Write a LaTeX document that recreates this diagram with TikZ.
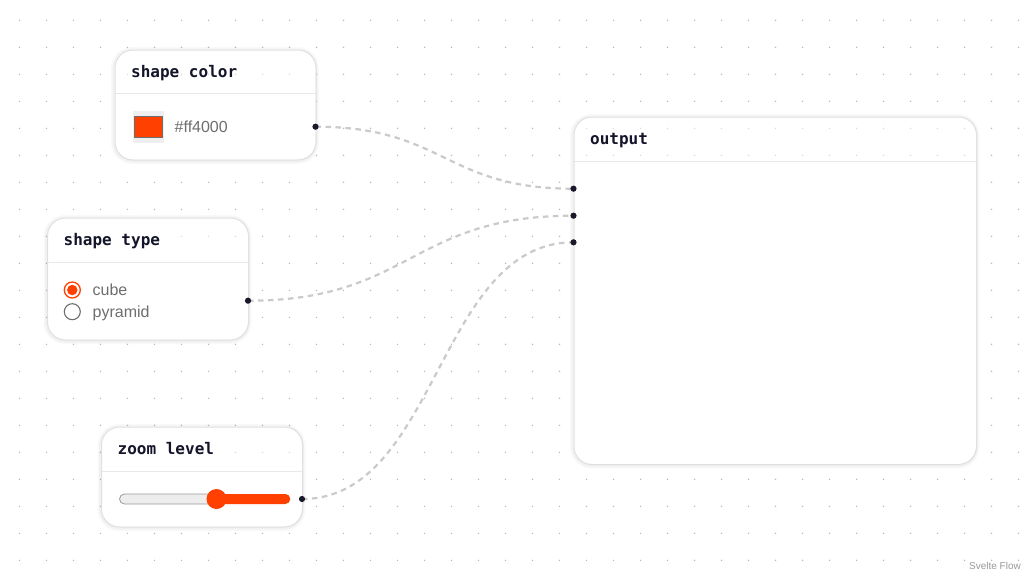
\documentclass[tikz,border=0pt]{standalone}
\usepackage{fontspec}
\setmainfont{Liberation Sans}
\newfontfamily\titlefont{DejaVu Sans Mono}
\usetikzlibrary{calc}
\definecolor{accent}{HTML}{FF4000}
\definecolor{gridcol}{HTML}{B8B8B8}
\definecolor{framecol}{HTML}{E0E0E0}
\definecolor{sepcol}{HTML}{E8E8E8}
\definecolor{edgecol}{HTML}{CACACA}
\definecolor{handlecol}{HTML}{1A192B}
\definecolor{titlecol}{HTML}{14142A}
\definecolor{bodycol}{HTML}{6E6E6E}
\definecolor{swatchbg}{HTML}{EFEFEF}
\definecolor{trackgray}{HTML}{EDEDED}
\definecolor{trackline}{HTML}{9A9A9A}
\definecolor{attrcol}{HTML}{999999}
\tikzset{
  boxframe/.style={draw=framecol, line width=1pt, rounded corners=18pt, inner sep=0pt, anchor=north west},
  titletext/.style={font=\titlefont\bfseries\fontsize{16}{19}\selectfont, text=titlecol, inner sep=0pt, anchor=base west},
  bodytext/.style={font=\fontsize{16}{19}\selectfont, text=bodycol, inner sep=0pt, anchor=base west},
  handle/.style={circle, fill=handlecol, minimum size=6.2pt, inner sep=0pt},
  edge/.style={draw=edgecol, line width=2.2pt, dash pattern=on 5.5pt off 4.5pt},
  sepline/.style={draw=sepcol, line width=1pt},
}
% #1 name, #2 left, #3 top, #4 right, #5 bottom, #6 separator y, #7 title
\newcommand\flowbox[7]{%
  \draw[black, draw opacity=0.025, line width=7pt, rounded corners=18pt] (#2,#3+1) rectangle (#4,#5+1);
  \draw[black, draw opacity=0.03, line width=4pt, rounded corners=18pt] (#2,#3+1) rectangle (#4,#5+1);
  \fill[white, rounded corners=18pt] (#2,#3) rectangle (#4,#5);
  \begin{scope}
    \clip (#2-2,#3-2) rectangle (#4+2,#6);
    \foreach \i in {0,...,37}{
      \foreach \j in {0,...,20}{
        \fill[gridcol, opacity=0.5] ({19.5+27*\i},{20.3+27*\j}) circle (0.8pt);
      }
    }
  \end{scope}
  \draw[sepline] (#2,#6) -- (#4,#6);
  \node[boxframe, minimum width={(#4-#2)*1pt}, minimum height={(#5-#3)*1pt}] (#1) at (#2,#3) {};
  \node[titletext] (#1-title) at ({#2+16.5},{(#3+#6)/2+5.8}) {#7};
}
\begin{document}
\begin{tikzpicture}[x=1pt,y=-1pt]
\useasboundingbox (0,0) rectangle (1024,576);
\fill[white] (0,0) rectangle (1024,576);
% dotted background
\foreach \i in {0,...,37}{
  \foreach \j in {0,...,20}{
    \fill[gridcol] ({19.5+27*\i},{20.3+27*\j}) circle (0.8pt);
  }
}
% boxes
\flowbox{sc}{114.5}{49.5}{315.5}{159.5}{93.5}{shape color}
\flowbox{st}{47}{217.5}{248}{339.5}{262.5}{shape type}
\flowbox{zl}{101}{426.5}{302}{526.5}{471}{zoom level}
\flowbox{out}{573.5}{116.5}{976}{464}{161}{output}
% shape color body
\node[fill=swatchbg, minimum width=31pt, minimum height=32pt, inner sep=0pt, anchor=north west] (sc-sw) at (132.3,110.7) {};
\node[fill=accent, draw=bodycol, line width=0.8pt, minimum width=27.7pt, minimum height=21.6pt, inner sep=0pt, anchor=north west] (sc-red) at (134,115.7) {};
\node[bodytext] (sc-val) at (174.5,132.3) {\#ff4000};
% shape type body
\node[circle, draw=accent, line width=1.3pt, minimum size=16pt, inner sep=0pt] (st-r1) at (72.3,290) {};
\node[circle, fill=accent, minimum size=10.5pt, inner sep=0pt] (st-r1dot) at (st-r1.center) {};
\node[circle, draw=bodycol, line width=1.1pt, minimum size=16pt, inner sep=0pt] (st-r2) at (72.3,311.7) {};
\node[bodytext] (st-cube) at (92.5,295.7) {cube};
\node[bodytext] (st-pyr) at (92.5,317.3) {pyramid};
% zoom level body
\draw[fill=trackgray, draw=trackline, line width=0.8pt, rounded corners=5pt] (119.5,494) rectangle (222,504);
\fill[accent, rounded corners=5pt] (210,494) rectangle (290.3,504);
\node[circle, fill=accent, minimum size=20pt, inner sep=0pt] (zl-thumb) at (216.5,499) {};
% handles (coordinates)
\coordinate (sc-h) at (315.5,126.7);
\coordinate (st-h) at (248,300.7);
\coordinate (zl-h) at (302,499);
\coordinate (out-h1) at (573.5,188.7);
\coordinate (out-h2) at (573.5,215.7);
\coordinate (out-h3) at (573.5,242.3);
% edges (bezier)
\draw[edge] let \p1=(sc-h), \p2=(out-h1), \n1={(\x1+\x2)/2} in (\p1) .. controls (\n1,\y1) and (\n1,\y2) .. (\p2);
\draw[edge] let \p1=(st-h), \p2=(out-h2), \n1={(\x1+\x2)/2} in (\p1) .. controls (\n1,\y1) and (\n1,\y2) .. (\p2);
\draw[edge] let \p1=(zl-h), \p2=(out-h3), \n1={(\x1+\x2)/2} in (\p1) .. controls (\n1,\y1) and (\n1,\y2) .. (\p2);
% handle dots
\node[handle] (sc-hd) at (sc-h) {};
\node[handle] (st-hd) at (st-h) {};
\node[handle] (zl-hd) at (zl-h) {};
\node[handle] (out-hd1) at (out-h1) {};
\node[handle] (out-hd2) at (out-h2) {};
\node[handle] (out-hd3) at (out-h3) {};
% attribution
\node[font=\fontsize{10}{12}\selectfont, text=attrcol, inner sep=0pt, anchor=base east] (attr) at (1021,569) {Svelte Flow};
\end{tikzpicture}
\end{document}
